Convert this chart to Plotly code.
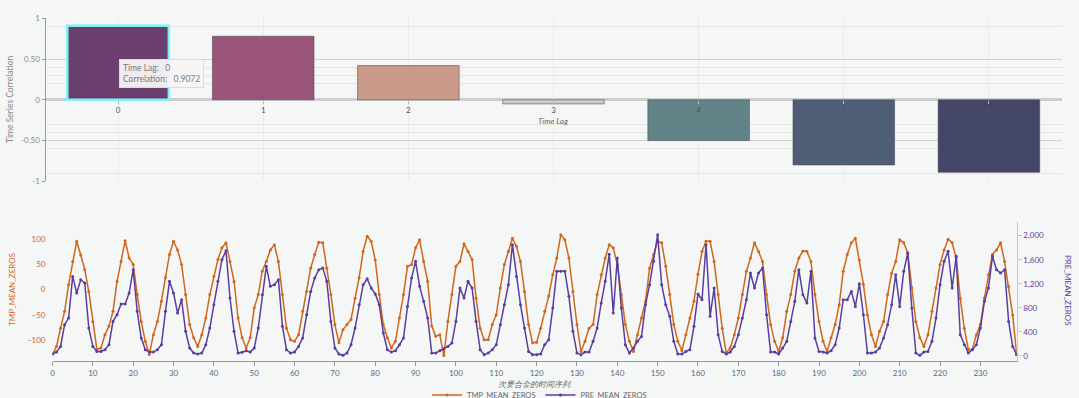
import plotly.graph_objects as go

# ---------------- data ----------------
lags = [0, 1, 2, 3, 4, 5, 6]
correlation = [0.9072, 0.78, 0.42, -0.05, -0.50, -0.80, -0.89]
bar_colors = ["#6a3f6e", "#9a5479", "#c99a88", "#c9d0c6", "#628489", "#4f5e77", "#434667"]

months = list(range(240))
tmp_mean = [
    -127, -112, -76, -43, 10, 55, 95, 68, 39, -4, -63, -118, -115, -89, -72, -43, 16, 55, 96, 62,
    49, -10, -63, -102, -128, -89, -63, -23, 23, 69, 95, 78, 49, -10, -69, -95, -112, -89, -56, -10,
    26, 59, 82, 92, 55, 16, -56, -95, -115, -95, -36, -10, 36, 55, 78, 88, 55, -10, -76, -99,
    -102, -89, -43, -4, 42, 69, 93, 92, 42, -10, -69, -105, -79, -69, -59, -17, 23, 75, 105, 95,
    58, -10, -69, -95, -115, -102, -56, -10, 46, 49, 82, 98, 55, 16, -72, -92, -89, -130, -63, -10,
    46, 55, 90, 75, 59, -17, -76, -99, -99, -69, -50, 3, 49, 75, 101, 85, 55, -4, -69, -105,
    -104, -76, -43, -13, 29, 62, 108, 98, 62, -4, -69, -122, -102, -76, -69, -10, 29, 62, 88, 82,
    49, -10, -69, -102, -122, -89, -56, -23, 42, 69, 95, 92, 46, -10, -69, -102, -120, -89, -56, -23,
    30, 75, 95, 95, 55, -10, -76, -125, -115, -89, -56, -10, 36, 62, 92, 75, 55, -10, -69, -102,
    -122, -95, -43, -10, 36, 62, 76, 75, 55, -10, -63, -102, -122, -95, -69, -30, 36, 69, 92, 101,
    58, 10, -50, -89, -112, -82, -63, -10, 32, 55, 98, 92, 72, 3, -63, -95, -112, -89, -43, 3,
    49, 78, 99, 92, 62, -17, -76, -118, -118, -89, -69, -17, 29, 69, 78, 92, 55, 6, -50, -128,
]
pre_mean = [
    28, 60, 155, 517, 628, 1322, 1044, 1267, 1211, 461, 155, 72, 72, 100, 183, 572, 683, 861, 861, 1044,
    1433, 739, 294, 100, 61, 61, 100, 183, 739, 1239, 1044, 711, 933, 406, 128, 44, 28, 44, 183, 461,
    850, 1239, 1600, 1750, 961, 406, 44, 56, 83, 61, 128, 461, 1017, 1489, 1156, 1183, 1267, 489, 100, 44,
    61, 155, 294, 683, 1072, 1294, 1433, 1461, 1239, 572, 128, 28, 6, 44, 183, 461, 850, 1183, 1283, 1128,
    1030, 850, 378, 100, 61, 83, 183, 294, 822, 1294, 1572, 1156, 906, 628, 44, 44, 83, 117, 155, 211,
    572, 1128, 961, 1239, 1128, 572, 100, 17, 44, 100, 183, 517, 850, 1183, 1850, 1322, 850, 461, 72, 17,
    17, 28, 183, 267, 794, 1406, 1406, 1406, 989, 406, 44, 17, 61, 61, 239, 461, 878, 1239, 1690, 711,
    1628, 794, 183, 44, 128, 239, 322, 850, 1183, 1572, 2017, 1183, 850, 656, 239, 28, 28, 72, 100, 489,
    1030, 933, 1850, 656, 1128, 350, 72, 28, 61, 155, 350, 628, 933, 1378, 1128, 1378, 1461, 683, 61, 61,
    28, 128, 239, 572, 906, 1433, 1017, 878, 1406, 294, 72, 61, 44, 83, 183, 461, 933, 933, 1072, 822,
    1200, 683, 44, 44, 61, 128, 294, 517, 850, 1350, 822, 1406, 1711, 794, 44, 6, 61, 72, 239, 628,
    1183, 1572, 1739, 1128, 1656, 350, 183, 44, 100, 183, 461, 906, 1128, 1656, 1433, 1378, 1433, 572, 155, 17,
]

corr_ticks = [-1, -0.5, 0, 0.5, 1]
corr_ticktext = ["-1", "-0.50", "0", "0.50", "1"]
corr_minor = [-0.9, -0.6, -0.4, -0.3, 0.2, 0.3, 0.4, 0.9]
tmp_ticks = [-100, -50, 0, 50, 100]
pre_ticks = [0, 400, 800, 1200, 1600, 2000]
month_ticks = list(range(0, 240, 10))

ORANGE = "#cf671c"
PURPLE = "#5a3d9e"
BG = "#f5f7f6"
FONT = "Lato, 'Open Sans', sans-serif"

# figure is a little taller than the 398px window so the bottom legend
# does not push the margins; the overflow is hidden.
W, H = 1079, 414


def px(x):
    return x / W


def py(y):
    return 1 - y / H


fig = go.Figure()

line_colors = ["#7ff3f7"] + ["rgba(80,70,90,0.55)"] * 6
line_widths = [2.5] + [1] * 6
fig.add_trace(go.Bar(
    x=lags, y=correlation, xaxis="x", yaxis="y",
    marker=dict(color=bar_colors, line=dict(color=line_colors, width=line_widths)),
    width=0.7, showlegend=False, name="Correlation",
))

fig.add_trace(go.Scatter(
    x=months, y=tmp_mean, xaxis="x2", yaxis="y2", name="TMP_MEAN_ZEROS",
    mode="lines+markers", line=dict(color=ORANGE, width=1.5),
    marker=dict(size=3, color=ORANGE),
))
fig.add_trace(go.Scatter(
    x=months, y=pre_mean, xaxis="x2", yaxis="y3", name="PRE_MEAN_ZEROS",
    mode="lines+markers", line=dict(color=PURPLE, width=1.5),
    marker=dict(size=3, color=PURPLE),
))

top_dom = [py(181.3), py(18.3)]
bot_dom = [py(361), py(222)]


def note(text, x, y, color, size=8, angle=0):
    return dict(text=text, x=px(x), y=py(y), xref="paper", yref="paper",
                xanchor="center", yanchor="middle", textangle=angle,
                showarrow=False, font=dict(size=size, color=color))


fig.update_layout(
    width=W, height=H,
    margin=dict(l=0, r=0, t=0, b=0),
    paper_bgcolor=BG, plot_bgcolor=BG,
    font=dict(family=FONT, size=8, color="#777"),
    bargap=0.3,
    xaxis=dict(
        domain=[px(45.5), px(1061.5)], range=[-0.5, 6.5],
        anchor="free", position=(top_dom[0] + top_dom[1]) / 2,
        tickvals=lags, ticks="outside", ticklen=3, tickcolor="#bbb",
        showline=False, showgrid=True, gridcolor="#e9ebea", zeroline=False,
        tickfont=dict(size=8, color="#555"), automargin=False,
    ),
    yaxis=dict(
        domain=top_dom, range=[-1, 1], anchor="x",
        tickvals=corr_ticks, ticktext=corr_ticktext,
        ticks="outside", ticklen=3, tickcolor="#999",
        showline=True, linecolor="#9a9a9a", linewidth=1,
        showgrid=True, gridcolor="#cfd1d0", gridwidth=1,
        zeroline=True, zerolinecolor="#cdcfce", zerolinewidth=3,
        minor=dict(tickvals=corr_minor, showgrid=True, gridcolor="#e4e6e5", ticks=""),
        tickfont=dict(size=8, color="#8a8a8a"), automargin=False,
    ),
    xaxis2=dict(
        domain=[px(52.5), px(1016.7)], range=[0, 239], anchor="y2",
        tickvals=month_ticks, ticks="outside", ticklen=4, tickcolor="#999",
        showline=True, linecolor="#999", linewidth=1,
        showgrid=False, zeroline=False,
        tickfont=dict(size=8, color="#5a6a85"), automargin=False,
    ),
    yaxis2=dict(
        domain=bot_dom, range=[-140.7, 132.9], anchor="x2",
        tickvals=tmp_ticks, showline=False, showgrid=False, zeroline=False,
        ticks="", ticklabelstandoff=6,
        tickfont=dict(size=8, color=ORANGE), automargin=False,
    ),
    yaxis3=dict(
        range=[-88, 2228], anchor="x2", overlaying="y2", side="right",
        tickvals=pre_ticks, tickformat=",",
        showline=True, linecolor="#c9c4dd", linewidth=1,
        ticks="outside", ticklen=4, tickcolor="#c9c4dd",
        showgrid=False, zeroline=False,
        tickfont=dict(size=8, color=PURPLE), automargin=False,
    ),
    legend=dict(
        orientation="h", x=0.5, xanchor="center", y=py(395), yanchor="middle",
        font=dict(size=7.5, color="#666"), bgcolor="rgba(0,0,0,0)",
        itemwidth=30, tracegroupgap=0,
    ),
    annotations=[
        note("Time Series Correlation", 10, 100, "#888", 8.5, -90),
        note("<i>Time Lag</i>", 553, 121, "#666"),
        note("TMP_MEAN_ZEROS", 12, 290, ORANGE, 8, -90),
        note("PRE_MEAN_ZEROS", 1068, 290, PURPLE, 8, 90),
        note("<i>次要合金的时间序列</i>", 535, 384, "#666"),
        dict(text="Time Lag:&nbsp;&nbsp;&nbsp;0<br>Correlation:&nbsp;&nbsp;&nbsp;0.9072",
             x=px(119), y=py(59), xref="paper", yref="paper", xanchor="left", yanchor="top",
             align="left", showarrow=False, bgcolor="rgba(246,246,246,0.95)",
             bordercolor="#dcdcdc", borderwidth=1, borderpad=3,
             font=dict(size=8.5, color="#7a7a7a")),
    ],
)

fig.write_html(
    "out.html",
    config={"displayModeBar": False},
    post_script=(
        "document.documentElement.style.overflow='hidden';"
        "document.body.style.overflow='hidden';"
        "document.body.style.margin='0';"
        "document.body.style.background='%s';" % BG
    ),
)
